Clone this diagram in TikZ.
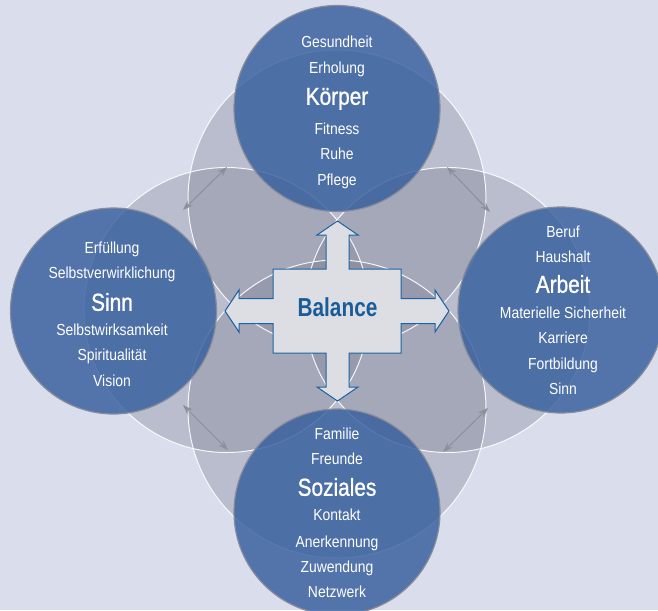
\documentclass[tikz,border=0pt]{standalone}
\usepackage{fontspec}
\setmainfont{Liberation Sans}
\newfontfamily\itemfont[FakeStretch=0.87]{Liberation Sans}
\newfontfamily\titlefont[FakeStretch=0.85,FakeBold=1.0]{Liberation Sans}
\newfontfamily\balfont[FakeStretch=0.80]{Liberation Sans}
\usetikzlibrary{arrows.meta}
\definecolor{bgc}{RGB}{218,221,236}
\definecolor{grayfill}{RGB}{125,130,148}
\definecolor{blueC}{RGB}{53,94,157}
\definecolor{rimc}{RGB}{135,140,155}
\definecolor{crossfill}{RGB}{221,222,227}
\definecolor{crossline}{RGB}{30,98,160}
\definecolor{baltext}{RGB}{26,92,152}
\definecolor{arrowgray}{RGB}{140,143,155}
\tikzset{
  grayring/.style={fill=grayfill, fill opacity=0.35, draw=none},
  grayline/.style={draw=white, line width=1pt, opacity=0.9},
  bluecirc/.style={fill=blueC, fill opacity=0.82, draw=rimc, line width=1.2pt},
  item/.style={text=white, font=\itemfont\fontsize{16}{19}\selectfont, inner sep=0pt, text height=11.5pt, text depth=0pt, anchor=center},
  title/.style={text=white, font=\titlefont\fontsize{24.5}{28}\selectfont, inner sep=0pt, text height=17.5pt, text depth=0pt, anchor=center},
  crossshape/.style={fill=crossfill, draw=crossline, line width=1pt, line join=miter},
  baltitle/.style={text=baltext, font=\balfont\bfseries\fontsize{26}{30}\selectfont, inner sep=0pt, text height=18.8pt, text depth=0pt, anchor=center},
  linkarrow/.style={draw=arrowgray, line width=1pt, {Stealth[length=10pt,width=7pt,inset=3.5pt]}-{Stealth[length=10pt,width=7pt,inset=3.5pt]}}
}
\begin{document}
\begin{tikzpicture}[x=1pt,y=-1pt]
\fill[bgc] (0,0) rectangle (658,610);
\useasboundingbox (0,0) rectangle (658,610);
% large gray circles
\fill[grayring] (337,199) circle (149);
\fill[grayring] (337,409) circle (149);
\fill[grayring] (226.5,310) circle (142.5);
\fill[grayring] (447.5,310) circle (142.5);
\draw[grayline] (337,199) circle (149);
\draw[grayline] (337,409) circle (149);
\draw[grayline] (226.5,310) circle (142.5);
\draw[grayline] (447.5,310) circle (142.5);
% blue circles
\draw[bluecirc] (337,108.5) circle (103);
\draw[bluecirc] (561,310) circle (103);
\draw[bluecirc] (337,512) circle (103);
\draw[bluecirc] (113.5,311) circle (103);
% links
\coordinate (tlA) at (183,210); \coordinate (tlB) at (227,167);
\coordinate (trA) at (447,167); \coordinate (trB) at (490,212);
\coordinate (blA) at (183,405); \coordinate (blB) at (228,450);
\coordinate (brA) at (443,452); \coordinate (brB) at (488,408);
\draw[linkarrow] (tlA) -- (tlB);
\draw[linkarrow] (trA) -- (trB);
\draw[linkarrow] (blA) -- (blB);
\draw[linkarrow] (brA) -- (brB);
% cross
\draw[crossshape] (273,269) -- (326,269) -- (326,235) -- (317,235) -- (337.5,221) -- (358,235) -- (349,235) -- (349,269) -- (401,269) -- (401,298.5) -- (435,298.5) -- (435,290) -- (449,311) -- (435,332) -- (435,323.5) -- (401,323.5) -- (401,353) -- (349,353) -- (349,387) -- (358,387) -- (337.5,401) -- (317,387) -- (326,387) -- (326,353) -- (273,353) -- (273,323.5) -- (239,323.5) -- (239,332) -- (225,311) -- (239,290) -- (239,298.5) -- (273,298.5) -- cycle;
\node[baltitle] (balance) at (337.5,307.5) {Balance};
% top
\node[item] (k1) at (337,42) {Gesundheit};
\node[item] (k2) at (337,68) {Erholung};
\node[title] (k0) at (337,96) {Körper};
\node[item] (k3) at (337,129) {Fitness};
\node[item] (k4) at (337,154) {Ruhe};
\node[item] (k5) at (337,180) {Pflege};
% right
\node[item] (a1) at (563,232) {Beruf};
\node[item] (a2) at (563,257) {Haushalt};
\node[title] (a0) at (563,284) {Arbeit};
\node[item] (a3) at (563,313) {Materielle Sicherheit};
\node[item] (a4) at (563,338) {Karriere};
\node[item] (a5) at (563,364) {Fortbildung};
\node[item] (a6) at (563,389) {Sinn};
% left
\node[item] (s1) at (112,248) {Erfüllung};
\node[item] (s2) at (112,273) {Selbstverwirklichung};
\node[title] (s0) at (112,302) {Sinn};
\node[item] (s3) at (112,330) {Selbstwirksamkeit};
\node[item] (s4) at (112,355) {Spiritualität};
\node[item] (s5) at (112,381) {Vision};
% bottom
\node[item] (z1) at (337,434) {Familie};
\node[item] (z2) at (337,459) {Freunde};
\node[title] (z0) at (337,487) {Soziales};
\node[item] (z3) at (337,515) {Kontakt};
\node[item] (z4) at (337,542) {Anerkennung};
\node[item] (z5) at (337,567) {Zuwendung};
\node[item] (z6) at (337,592) {Netzwerk};
\end{tikzpicture}
\end{document}
